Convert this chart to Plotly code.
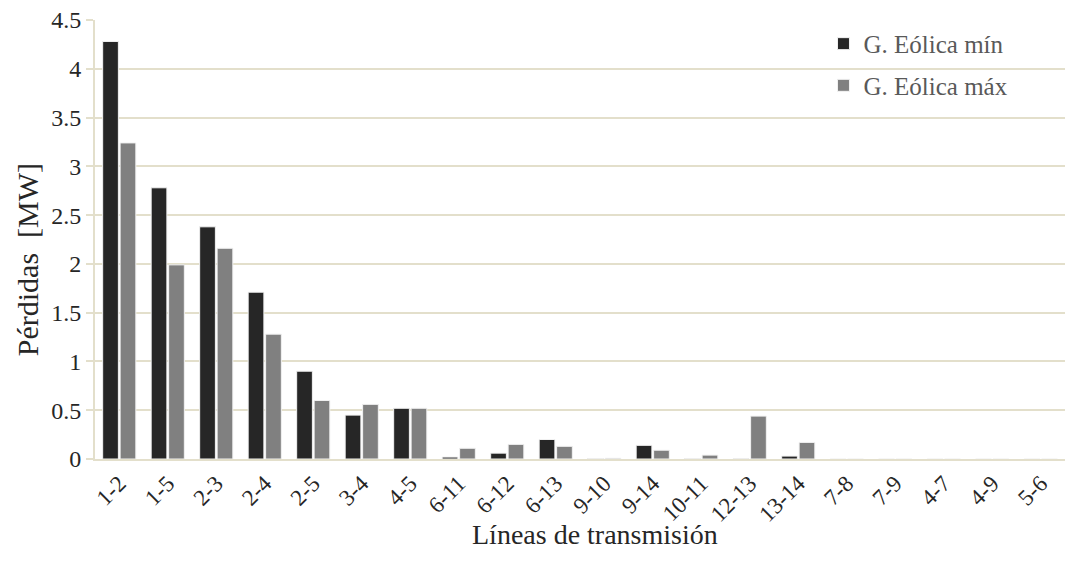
import plotly.graph_objects as go

categories = ["1-2", "1-5", "2-3", "2-4", "2-5", "3-4", "4-5", "6-11", "6-12", "6-13",
              "9-10", "9-14", "10-11", "12-13", "13-14", "7-8", "7-9", "4-7", "4-9", "5-6"]
eolica_min = [4.28, 2.78, 2.38, 1.71, 0.90, 0.45, 0.52, 0.02, 0.06, 0.20,
              0.004, 0.14, 0.004, 0.003, 0.03, 0, 0, 0, 0, 0]
eolica_max = [3.24, 1.99, 2.16, 1.28, 0.60, 0.56, 0.52, 0.11, 0.15, 0.13,
              0.008, 0.09, 0.04, 0.44, 0.17, 0, 0, 0, 0, 0]
x_title = "Líneas de transmisión"
y_title = "Pérdidas  [MW]"

font_family = "Liberation Serif, Times New Roman, serif"
grid_color = "#e3dfcb"
text_color = "#262626"

fig = go.Figure()
fig.add_trace(go.Bar(x=categories, y=eolica_min, name="G. Eólica mín",
                     marker=dict(color="#262626", line=dict(color="#f2f2f2", width=1)),
                     legend="legend"))
fig.add_trace(go.Bar(x=categories, y=eolica_max, name="G. Eólica máx",
                     marker=dict(color="#808080", line=dict(color="#f2f2f2", width=1)),
                     legend="legend2"))

fig.update_layout(
    width=1078, height=571,
    margin=dict(l=95, r=13, t=20, b=112),
    paper_bgcolor="white", plot_bgcolor="white",
    font=dict(family=font_family, size=22, color=text_color),
    barmode="group", bargap=0.28, bargroupgap=0.1,
    showlegend=True,
    legend=dict(x=0.751, y=0.998, xanchor="left", yanchor="top", itemwidth=30,
                bgcolor="rgba(0,0,0,0)", font=dict(family=font_family, size=25, color="#595959")),
    legend2=dict(x=0.751, y=0.903, xanchor="left", yanchor="top", itemwidth=30,
                 bgcolor="rgba(0,0,0,0)", font=dict(family=font_family, size=25, color="#595959")),
    xaxis=dict(type="category", automargin=False,
               tickangle=-45, showline=True, linecolor=grid_color, linewidth=2,
               ticks="", showgrid=False, tickfont=dict(family=font_family, size=23, color=text_color)),
    yaxis=dict(automargin=False,
               range=[0, 4.5], dtick=0.5, showgrid=True, gridcolor=grid_color, gridwidth=2,
               showline=True, linecolor=grid_color, linewidth=2,
               ticks="outside", tickcolor=grid_color, ticklen=7, tickwidth=2,
               zeroline=False, tickfont=dict(family=font_family, size=24, color=text_color)),
    annotations=[
        dict(text=x_title, xref="paper", yref="paper", x=0.515, y=-0.172,
             xanchor="center", yanchor="middle", showarrow=False,
             font=dict(family=font_family, size=28, color=text_color)),
        dict(text=y_title, xref="paper", yref="paper", x=-0.070, y=0.453,
             xanchor="center", yanchor="middle", showarrow=False, textangle=-90,
             font=dict(family=font_family, size=30, color=text_color)),
    ],
)

fig.write_html("out.html", config={"displayModeBar": False},
               post_script="document.body.style.margin='0';")
